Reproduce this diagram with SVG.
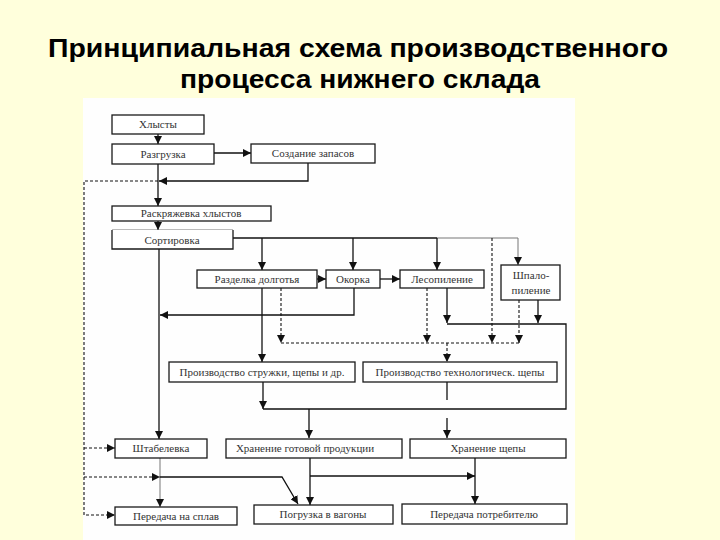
<svg xmlns="http://www.w3.org/2000/svg" width="720" height="540" viewBox="0 0 720 540">
<defs>
<style>
.bx{fill:#fff;stroke:#1a1a1a;stroke-width:1.3}
.bxl{fill:#fff;stroke:#1a1a1a;stroke-width:1.3}
.t{font-family:"Liberation Serif","DejaVu Serif",serif;font-size:11px;fill:#333;text-anchor:middle}
.ln{fill:none;stroke:#111;stroke-width:1.3}
.thin{fill:none;stroke:#777;stroke-width:1}
.ds{fill:none;stroke:#111;stroke-width:1.1;stroke-dasharray:3,2}
.ttl{font-family:"Liberation Sans",Arial,sans-serif;font-weight:bold;font-size:25px;fill:#000;text-anchor:middle}
</style>
<marker id="a" viewBox="0 0 10 10" refX="10" refY="5" markerWidth="8" markerHeight="8" markerUnits="userSpaceOnUse" orient="auto">
<path d="M0,0 L10,5 L0,10 z" fill="#111"/>
</marker>
</defs>
<rect x="0" y="0" width="720" height="540" fill="#ffffdc"/>
<rect x="83" y="98" width="492" height="442" fill="#fefefe"/>
<g id="title">
<text class="ttl" x="358" y="57" textLength="620" lengthAdjust="spacingAndGlyphs">Принципиальная схема  производственного</text>
<text class="ttl" x="360" y="88" textLength="360" lengthAdjust="spacingAndGlyphs">процесса нижнего склада</text>
</g>
<g id="connectors">
<!-- top chain -->
<path class="ln" d="M158,134 V144" marker-end="url(#a)"/>
<path class="ln" d="M214,153 H251" marker-end="url(#a)"/>
<path class="ln" d="M308,163 V181 H159" marker-end="url(#a)"/>
<path class="ln" d="M158,164 V206" marker-end="url(#a)"/>
<path class="ln" d="M158,221 V230" marker-end="url(#a)"/>
<!-- left dashed return -->
<path class="ds" d="M158,181 H84 V515 H115" marker-end="url(#a)"/>
<path class="ds" d="M84,448 H115" marker-end="url(#a)"/>
<path class="ds" d="M84,477 H160" marker-end="url(#a)"/>
<!-- sorting distribution -->
<path class="ln" d="M233,238 H437"/>
<path class="thin" d="M437,238 H518"/>
<path class="ln" d="M262,238 V270" marker-end="url(#a)"/>
<path class="ln" d="M353,238 V270" marker-end="url(#a)"/>
<path class="ln" d="M437,238 V270" marker-end="url(#a)"/>
<path class="thin" d="M518,238 V265" marker-end="url(#a)"/>
<path class="ds" d="M492,238 V343" marker-end="url(#a)"/>
<!-- row links -->
<path class="ln" d="M317,279 H326" marker-end="url(#a)"/>
<path class="ln" d="M380,279 H400" marker-end="url(#a)"/>
<!-- Окорка return -->
<path class="ln" d="M354,288 V315 H160" marker-end="url(#a)"/>
<!-- Сортировка down to Штабелевка -->
<path class="ln" d="M159,249 V439" marker-end="url(#a)"/>
<!-- Разделка to стружка -->
<path class="ln" d="M262,288 V362" marker-end="url(#a)"/>
<!-- dashed collector -->
<path class="ds" d="M281,288 V343" marker-end="url(#a)"/>
<path class="ds" d="M427,288 V343" marker-end="url(#a)"/>
<path class="ds" d="M519,300 V343" marker-end="url(#a)"/>
<path class="ds" d="M281,343 H519"/>
<path class="ds" d="M447,343 V362" marker-end="url(#a)"/>
<!-- solid collector -->
<path class="ln" d="M447,288 V323" marker-end="url(#a)"/>
<path class="ln" d="M538,300 V323" marker-end="url(#a)"/>
<path class="ln" d="M447,324 H566 V409 H263"/>
<path class="ln" d="M263,382 V409" marker-end="url(#a)"/>
<path class="ln" d="M447,382 V400"/>
<path class="ln" d="M309,409 V438" marker-end="url(#a)"/>
<path class="ln" d="M447,418 V438" marker-end="url(#a)"/>
<!-- bottom -->
<path class="thin" d="M160,458 V507" marker-end="url(#a)"/>
<path class="ln" d="M160,477 H282 L298,504" marker-end="url(#a)"/>
<path class="ln" d="M310,458 V505" marker-end="url(#a)"/>
<path class="ln" d="M310,476 H475" marker-end="url(#a)"/>
<path class="ln" d="M475,458 V504" marker-end="url(#a)"/>
</g>
<g id="n-hlysty"><rect class="bx" x="112" y="115" width="92" height="19"/><text class="t" x="158" y="128">Хлысты</text></g>
<g id="n-razgruzka"><rect class="bx" x="112" y="144" width="102" height="20"/><text class="t" x="163" y="158">Разгрузка</text></g>
<g id="n-zapasy"><rect class="bx" x="251" y="144" width="124" height="19"/><text class="t" x="313" y="157">Создание запасов</text></g>
<g id="n-raskryazhevka"><rect class="bx" x="112" y="206" width="159" height="15"/><text class="t" x="191" y="217">Раскряжевка хлыстов</text></g>
<g id="n-sortirovka"><path class="thin" d="M112,230 H233"/><path class="bx" d="M233,230 V249 H112 V230" style="fill:#fff"/><text class="t" x="172" y="244">Сортировка</text></g>
<g id="n-razdelka"><rect class="bx" x="197" y="270" width="120" height="18"/><text class="t" x="257" y="283">Разделка долготья</text></g>
<g id="n-okorka"><rect class="bx" x="326" y="270" width="54" height="18"/><text class="t" x="353" y="283">Окорка</text></g>
<g id="n-lesopilenie"><rect class="bx" x="400" y="270" width="84" height="18"/><text class="t" x="442" y="283">Лесопиление</text></g>
<g id="n-shpalo"><rect class="bx" x="501" y="265" width="59" height="35"/><text class="t" x="531" y="279">Шпало-</text><text class="t" x="531" y="294">пиление</text></g>
<g id="n-struzhka"><rect class="bx" x="169" y="362" width="186" height="20"/><text class="t" x="262" y="376">Производство стружки, щепы и др.</text></g>
<g id="n-shchepa"><rect class="bx" x="363" y="362" width="194" height="20"/><text class="t" x="460" y="376">Производство технологическ. щепы</text></g>
<g id="n-shtabelevka"><rect class="bx" x="115" y="439" width="92" height="19"/><text class="t" x="161" y="452">Штабелевка</text></g>
<g id="n-hranenie-gp"><rect class="bx" x="226" y="439" width="176" height="19"/><text class="t" x="305" y="452">Хранение готовой продукции</text></g>
<g id="n-hranenie-sh"><rect class="bx" x="410" y="439" width="156" height="19"/><text class="t" x="488" y="452">Хранение щепы</text></g>
<g id="n-splav"><rect class="bx" x="115" y="507" width="122" height="18"/><text class="t" x="176" y="520">Передача на сплав</text></g>
<g id="n-vagony"><rect class="bx" x="254" y="505" width="139" height="19"/><text class="t" x="323" y="518">Погрузка в вагоны</text></g>
<g id="n-potrebitel"><rect class="bx" x="402" y="504" width="165" height="20"/><text class="t" x="484" y="518">Передача потребителю</text></g>
</svg>
